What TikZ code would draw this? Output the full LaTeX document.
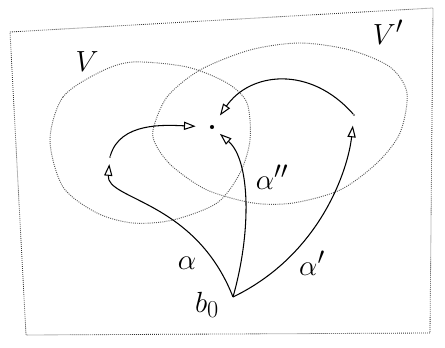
\documentclass[tikz,border=0pt]{standalone}
\usetikzlibrary{arrows.meta}
\begin{document}
\begin{tikzpicture}[
        x=0.03cm, y=-0.03cm,
        point/.style={circle, fill=black, inner sep=0pt, minimum size=3.5pt},
        faintpoint/.style={circle, fill=black!60, inner sep=0pt, minimum size=1.8pt},
        region/.style={draw=black!65, densely dotted, line width=0.8pt},
        frame/.style={draw=black!80, densely dotted, line width=0.7pt},
        lbl/.style={font=\Huge},
        arrow/.style={-{Triangle[open, length=10pt, width=7pt]}, line width=0.9pt}
    ]
    \useasboundingbox (0,0) rectangle (445,348);

    % Frame
    \draw[frame] (10,32) -- (433,8) -- (430,333) -- (26,335) -- cycle;

    % Region V
    \draw[region] plot[smooth cycle] coordinates {(50,140) (63,97) (100,72) (133,62) (187,67) (227,83) (247,103) (250,140) (240,173) (217,203) (173,220) (133,223) (97,213) (63,187)};
    \node[lbl] (lbl_v) at (87,62) {$V$};

    % Region V'
    \draw[region] plot[smooth cycle] coordinates {(153,130) (167,97) (200,70) (250,50) (300,43) (350,50) (390,67) (407,93) (400,133) (377,163) (340,190) (293,203) (253,203) (207,190) (173,167) (157,147)};
    \node[lbl] (lbl_vp) at (388,32) {$V'$};

    % Points
    \coordinate (base_pt) at (233,297);
    \node[point] (mid_pt) at (212,127) {};
    \node[faintpoint] (left_pt) at (110,157) {};
    \node[faintpoint] (right_pt) at (354,115) {};
    \node[lbl] (base_lbl) at (207,305) {$b_0$};

    % Path alpha
    \draw[arrow, shorten >=5pt] (base_pt) .. controls (195,200) and (106,200) .. (left_pt);
    \draw[arrow, shorten >=12pt] (left_pt) .. controls (120,122) and (165,125) .. (mid_pt);
    \node[lbl] (lbl_a) at (187,263) {$\alpha$};

    % Path alpha''
    \draw[arrow, shorten >=7pt] (base_pt) .. controls (252,230) and (250,160) .. (mid_pt);
    \node[lbl] (lbl_app) at (272,177) {$\alpha''$};

    % Path alpha'
    \draw[arrow, shorten >=8pt] (base_pt) .. controls (320,255) and (348,170) .. (right_pt);
    \draw[arrow, shorten >=10pt] (right_pt) .. controls (310,65) and (250,72) .. (mid_pt);
    \node[lbl] (lbl_ap) at (312,263) {$\alpha'$};

\end{tikzpicture}
\end{document}
